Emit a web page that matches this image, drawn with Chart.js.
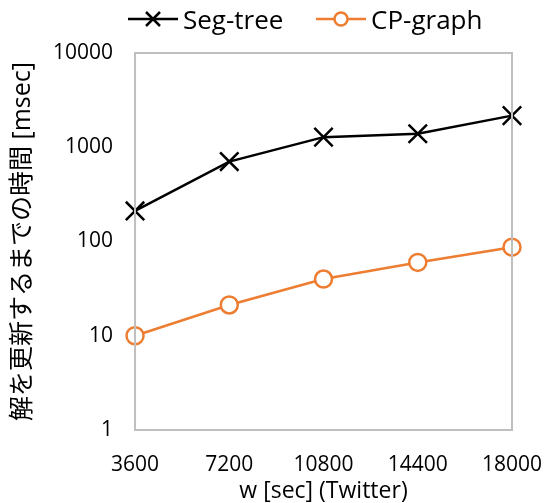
<!DOCTYPE html>
<html><head><meta charset="utf-8">
<script src="https://cdn.jsdelivr.net/npm/chart.js@4/dist/chart.umd.min.js"></script>
<style>
html,body{margin:0;padding:0;background:#fff}
#wrap{position:relative;width:547px;height:503px}
#c{position:absolute;left:0;top:0}
.lg{position:absolute;top:4px;height:30px;display:flex;align-items:center;font-family:'Open Sans',sans-serif;font-size:26px;color:#000;white-space:nowrap}
.lg canvas{margin-right:5px}
</style>
</head><body><div id="wrap"><canvas id="c" width="547" height="503"></canvas>
<div class="lg" id="lg0" style="left:128px"></div><div class="lg" id="lg1" style="left:316px"></div></div>
<script>
const categories = ['3600','7200','10800','14400','18000'];
const segTree = [211, 705, 1280, 1390, 2165];
const cpGraph = [10, 21.2, 40, 60, 87];
const seriesNames = ['Seg-tree','CP-graph'];
const seriesColors = ['#000000','#ED7D31'];
const yTickValues = [1,10,100,1000,10000];
const xTitle = 'w [sec] (Twitter)';
const yTitle = '解を更新するまでの時間 [msec]';

const FONT = "'Open Sans', 'Noto Sans CJK JP', sans-serif";
function icon(color, kind){
  const cv = document.createElement('canvas'); cv.width = 50; cv.height = 24;
  const g = cv.getContext('2d');
  g.strokeStyle = color; g.lineWidth = 2.5;
  g.beginPath(); g.moveTo(0,12); g.lineTo(50,12); g.stroke();
  if(kind==='x'){
    g.beginPath(); g.moveTo(18,5); g.lineTo(32,19); g.moveTo(32,5); g.lineTo(18,19); g.stroke();
  } else {
    g.fillStyle='#fff'; g.beginPath(); g.arc(25,12,6.5,0,Math.PI*2); g.fill(); g.stroke();
  }
  return cv;
}
['x','o'].forEach((k,i)=>{
  const el = document.getElementById('lg'+i);
  el.appendChild(icon(seriesColors[i],k));
  const s = document.createElement('span'); s.textContent = seriesNames[i]; el.appendChild(s);
});

const boxPlugin = {id:'box', afterDraw(chart){
  const a = chart.chartArea, g = chart.ctx;
  g.save(); g.strokeStyle='#bfbfbf'; g.lineWidth=2;
  g.strokeRect(a.left, a.top, a.right-a.left, a.bottom-a.top); g.restore();
}};

new Chart(document.getElementById('c'), {
  type:'line',
  data:{labels:categories, datasets:[
    {label:seriesNames[0], data:segTree, borderColor:seriesColors[0], backgroundColor:seriesColors[0], borderWidth:2.5,
     pointStyle:'crossRot', pointRadius:13, pointBorderWidth:2.5, pointHoverRadius:13, tension:0},
    {label:seriesNames[1], data:cpGraph, borderColor:seriesColors[1], backgroundColor:'#fff', borderWidth:2.5,
     pointStyle:'circle', pointRadius:8.5, pointBorderWidth:2.5, pointHoverRadius:8.5, tension:0}
  ]},
  options:{
    responsive:false, animation:false, devicePixelRatio:1,
    layout:{padding:{left:0,right:0,top:53,bottom:0}},
    plugins:{tooltip:{enabled:false}, legend:{display:false}},
    scales:{
      x:{type:'category', offset:false,
         afterFit(s){ s.paddingLeft = 0; s.paddingRight = 35; },
         grid:{display:false, drawTicks:false}, border:{display:false},
         ticks:{color:'#000', padding:22, maxRotation:0, autoSkip:false, font:{family:FONT, size:21}},
         title:{display:true, text:xTitle, color:'#000', padding:{top:-22,bottom:-1.8}, font:{family:FONT, size:23}}},
      y:{type:'logarithmic', min:1, max:10000,
         afterBuildTicks(s){ s.ticks = yTickValues.map(v=>({value:v})); },
         grid:{display:false, drawTicks:false}, border:{display:false},
         ticks:{color:'#000', padding:22, font:{family:FONT, size:21}, callback:v=>String(v)},
         title:{display:true, text:yTitle, color:'#000', padding:{top:8,bottom:-7}, font:{family:FONT, size:25}}}
    }
  },
  plugins:[boxPlugin]
});
</script></body></html>
